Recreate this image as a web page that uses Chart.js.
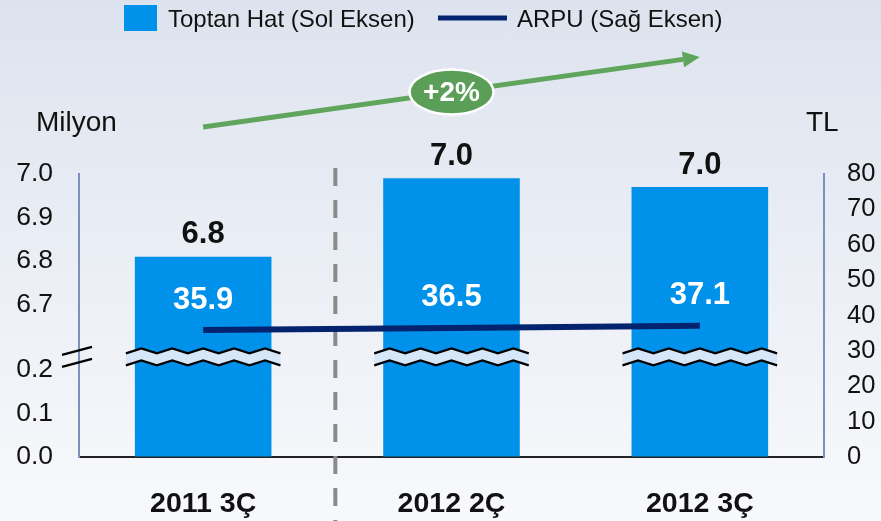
<!DOCTYPE html>
<html lang="tr">
<head>
<meta charset="UTF-8">
<title>Toptan Hat ve ARPU</title>
<script src="https://cdn.jsdelivr.net/npm/chart.js"></script>
<style>
  html, body { margin: 0; padding: 0; }
  body { width: 881px; height: 521px; overflow: hidden; background: linear-gradient(#dde3ee, #f8f9fc); }
  .wrap { position: relative; width: 881px; height: 521px; }
</style>
</head>
<body>
<div class="wrap"><canvas id="chart"></canvas></div>
<script>
// data
const periods = ['2011 3Ç', '2012 2Ç', '2012 3Ç'];
const toptanHat = [6.81, 6.99, 6.97];      // milyon (sol eksen)
const arpu = [35.9, 36.5, 37.1];           // TL (sag eksen)
const leftTickValues = [0.0, 0.1, 0.2, 6.7, 6.8, 6.9, 7.0];
const leftTickLabels = ['0.0', '0.1', '0.2', '6.7', '6.8', '6.9', '7.0'];
const rightTicks = [0, 10, 20, 30, 40, 50, 60, 70, 80];
const seriesNames = ['Toptan Hat (Sol Eksen)', 'ARPU (Sağ Eksen)'];
const growthLabel = '+2%';

const FONT = '"Liberation Sans", Arial, sans-serif';
const BAR = '#0091ea';
const NAVY = '#04236e';
const GREEN = '#5fa55c';

// broken left axis: 0..0.2 below the break, 6.7..7.0 above it
function brk(v) {
    return v <= 0.25 ? v * 10 : 3.5 + (v - 6.7) * 10;
}

function zigzag(ctx, x0, x1, y, amp, step) {
    let up = false;
    ctx.moveTo(x0, y + amp / 2);
    for (let x = x0 + step; x <= x1 + 0.1; x += step) {
        ctx.lineTo(x, up ? y + amp / 2 : y - amp / 2);
        up = !up;
    }
}

const decor = {
    id: 'decor',
    beforeDatasetsDraw(chart) {
        const ctx = chart.ctx;
        const xs = chart.scales.x;
        const mx = (xs.getPixelForValue(0) + xs.getPixelForValue(1)) / 2 + 8;
        ctx.save();
        ctx.strokeStyle = '#8a8a8a';
        ctx.lineWidth = 4;
        ctx.setLineDash([18, 14]);
        ctx.beginPath();
        ctx.moveTo(mx, chart.chartArea.top - 6);
        ctx.lineTo(mx, chart.height);
        ctx.stroke();
        ctx.restore();
    },
    afterDatasetsDraw(chart) {
        const ctx = chart.ctx;
        const area = chart.chartArea;
        const yL = chart.scales.y;
        const yMid = yL.getPixelForValue(2.3);
        const bars = chart.getDatasetMeta(1).data;
        const pts = chart.getDatasetMeta(0).data;
        ctx.save();

        // break marks across the bars
        bars.forEach(el => {
            const x0 = el.x - el.width / 2 - 9;
            const x1 = el.x + el.width / 2 + 9;
            const step = (x1 - x0) / 10;
            ctx.beginPath();
            zigzag(ctx, x0, x1, yMid - 6, 5, step);
            const pts2 = [];
            let up = false;
            for (let x = x0; x <= x1 + 0.1; x += step) { pts2.push([x, up ? yMid + 6 - 2.5 : yMid + 6 + 2.5]); up = !up; }
            pts2.reverse().forEach(p => ctx.lineTo(p[0], p[1]));
            ctx.closePath();
            ctx.fillStyle = '#d5e7f8';
            ctx.fill();
            ctx.strokeStyle = '#000';
            ctx.lineWidth = 2.2;
            ctx.beginPath();
            zigzag(ctx, x0, x1, yMid - 6, 5, step);
            ctx.stroke();
            ctx.beginPath();
            zigzag(ctx, x0, x1, yMid + 6, 5, step);
            ctx.stroke();
        });

        // break mark on the left axis
        ctx.beginPath();
        ctx.moveTo(area.left - 17, yMid - 2);
        ctx.lineTo(area.left + 13, yMid - 10);
        ctx.moveTo(area.left - 17, yMid + 10);
        ctx.lineTo(area.left + 13, yMid + 2);
        ctx.stroke();

        // value labels
        ctx.textAlign = 'center';
        ctx.textBaseline = 'middle';
        ctx.font = 'bold 31px ' + FONT;
        ctx.fillStyle = '#111';
        bars.forEach((el, i) => ctx.fillText(toptanHat[i].toFixed(1), el.x, el.y - 22));
        ctx.fillStyle = '#fff';
        pts.forEach((p, i) => ctx.fillText(arpu[i].toFixed(1), p.x, p.y - 30));
        ctx.restore();
    },
    afterDraw(chart) {
        const ctx = chart.ctx;
        const area = chart.chartArea;
        const xs = chart.scales.x;
        ctx.save();

        // growth arrow
        const ax0 = xs.getPixelForValue(0), ay0 = area.top - 47;
        const ax1 = xs.getPixelForValue(2), ay1 = area.top - 117;
        const ang = Math.atan2(ay1 - ay0, ax1 - ax0);
        const hl = 17, hw = 8;
        const bx = ax1 - hl * Math.cos(ang), by = ay1 - hl * Math.sin(ang);
        ctx.strokeStyle = GREEN;
        ctx.fillStyle = GREEN;
        ctx.lineWidth = 5;
        ctx.beginPath();
        ctx.moveTo(ax0, ay0);
        ctx.lineTo(bx, by);
        ctx.stroke();
        ctx.beginPath();
        ctx.moveTo(ax1, ay1);
        ctx.lineTo(bx + hw * Math.sin(ang), by - hw * Math.cos(ang));
        ctx.lineTo(bx - hw * Math.sin(ang), by + hw * Math.cos(ang));
        ctx.closePath();
        ctx.fill();

        const ex = (ax0 + ax1) / 2, ey = (ay0 + ay1) / 2;
        ctx.beginPath();
        ctx.ellipse(ex, ey, 42, 22.5, 0, 0, Math.PI * 2);
        ctx.fillStyle = '#5a9e58';
        ctx.fill();
        ctx.strokeStyle = '#fff';
        ctx.lineWidth = 2.5;
        ctx.stroke();
        ctx.fillStyle = '#fff';
        ctx.font = 'bold 28px ' + FONT;
        ctx.textAlign = 'center';
        ctx.textBaseline = 'middle';
        ctx.fillText(growthLabel, ex, ey + 1);

        // legend
        ctx.fillStyle = BAR;
        ctx.fillRect(124, 5, 33, 26);
        ctx.fillStyle = '#111';
        ctx.font = '24px ' + FONT;
        ctx.textAlign = 'left';
        ctx.fillText(seriesNames[0], 168, 20);
        ctx.strokeStyle = NAVY;
        ctx.lineWidth = 5;
        ctx.beginPath();
        ctx.moveTo(438, 18);
        ctx.lineTo(507, 18);
        ctx.stroke();
        ctx.fillText(seriesNames[1], 517, 20);

        // axis units
        ctx.font = '28px ' + FONT;
        ctx.fillText('Milyon', 36, area.top - 51);
        ctx.fillText('TL', 806, area.top - 51);
        ctx.restore();
    }
};

const ctx = document.getElementById('chart').getContext('2d');
new Chart(ctx, {
    data: {
        labels: periods,
        datasets: [{
            type: 'line',
            label: seriesNames[1],
            data: arpu,
            yAxisID: 'y1',
            borderColor: NAVY,
            borderWidth: 6,
            pointRadius: 0,
            tension: 0,
            order: 1
        }, {
            type: 'bar',
            label: seriesNames[0],
            data: toptanHat.map(brk),
            yAxisID: 'y',
            backgroundColor: BAR,
            barPercentage: 0.55,
            categoryPercentage: 1,
            order: 2
        }]
    },
    options: {
        responsive: true,
        maintainAspectRatio: false,
        animation: false,
        layout: { padding: { top: 174, left: 0, right: 0, bottom: 0 } },
        plugins: { legend: { display: false }, tooltip: { enabled: false } },
        scales: {
            x: {
                type: 'category',
                offset: true,
                afterFit(s) { s.height = 64; },
                grid: { display: true, drawOnChartArea: false, drawTicks: false },
                border: { color: '#222', width: 2 },
                ticks: { color: '#111', font: { family: FONT, size: 28.5, weight: 'bold' }, padding: 30 }
            },
            y: {
                type: 'linear',
                position: 'left',
                min: 0,
                max: 6.5,
                afterFit(s) { s.width = 79; },
                afterBuildTicks(s) { s.ticks = leftTickValues.map(v => ({ value: brk(v) })); },
                grid: { display: true, drawOnChartArea: false, drawTicks: false },
                border: { color: '#7b91bc', width: 2 },
                ticks: {
                    color: '#111',
                    padding: 26,
                    font: { family: FONT, size: 26.5 },
                    callback: (v, i) => leftTickLabels[i]
                }
            },
            y1: {
                type: 'linear',
                position: 'right',
                min: 0,
                max: 80,
                afterFit(s) { s.width = 57; },
                afterBuildTicks(s) { s.ticks = rightTicks.map(v => ({ value: v })); },
                grid: { display: true, drawOnChartArea: false, drawTicks: false },
                border: { color: '#7b91bc', width: 2 },
                ticks: { color: '#111', padding: 23, font: { family: FONT, size: 25.5 } }
            }
        }
    },
    plugins: [decor]
});
</script>
</body>
</html>
